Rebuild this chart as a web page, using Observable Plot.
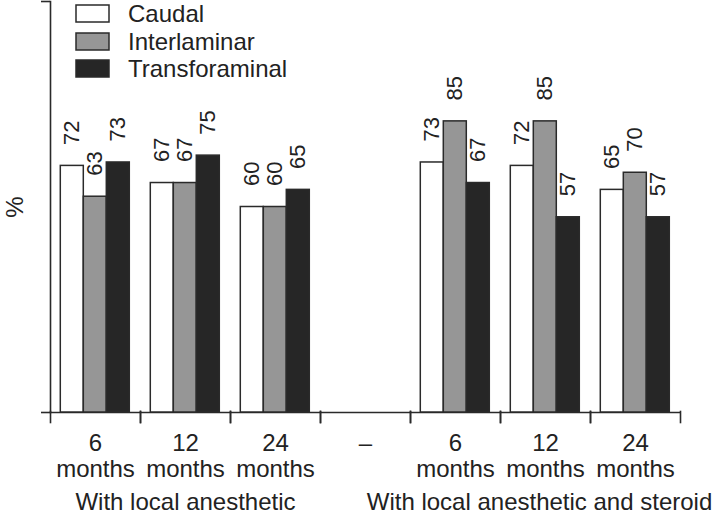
<!DOCTYPE html>
<html><head><meta charset="utf-8">
<script src="https://cdn.jsdelivr.net/npm/d3@7"></script>
<script src="https://cdn.jsdelivr.net/npm/@observablehq/plot@0.6"></script>
<style>
html,body{margin:0;padding:0;background:#fff;overflow:hidden;}
#chart{position:relative;width:714px;height:515px;font-family:"Liberation Sans",Arial,sans-serif;}
#legend{position:absolute;left:76px;top:0px;}
.lg-swatches{font-family:"Liberation Sans",Arial,sans-serif !important;font-size:24px !important;color:#222;margin:0 !important;min-height:0 !important;}
.lg-swatch{height:27.5px;padding-bottom:0 !important;margin:0 !important;display:flex !important;align-items:center;}
.lg-swatch svg{margin-right:19px !important;overflow:visible;flex-shrink:0;}
.lg-swatch svg rect{stroke:#2a2a2a;stroke-width:1.5px;}
.lg-swatch-label{line-height:27.5px;overflow:visible !important;text-overflow:clip !important;}
</style></head>
<body><div id="chart"><div id="legend"></div></div>
<script>
// ---- data ----
const series = ["Caudal", "Interlaminar", "Transforaminal"];
const fills = ["#ffffff", "#969696", "#262626"];
const groups = ["With local anesthetic", "With local anesthetic and steroid"];
const periods = ["6", "12", "24"];
const periodUnit = "months";
const anestheticCaudal = [72, 67, 60];
const anestheticInterlaminar = [63, 67, 60];
const anestheticTransforaminal = [73, 75, 65];
const steroidCaudal = [73, 72, 65];
const steroidInterlaminar = [85, 85, 70];
const steroidTransforaminal = [67, 57, 57];
const separatorLabel = "–";
const yTicks = [0, 120];
const yDomain = [0, 120];
const unitLabel = "%";

// ---- build tables ----
const groupKeys = ["A", "S"];
const groupValues = [
  [anestheticCaudal, anestheticInterlaminar, anestheticTransforaminal],
  [steroidCaudal, steroidInterlaminar, steroidTransforaminal]
];
const slots = [...periods.map(p => "A|" + p), "sep", ...periods.map(p => "S|" + p)];
const slotLabel = k => k === "sep" ? separatorLabel : k.split("|")[1] + "\n" + periodUnit;

const rows = [];
groupKeys.forEach((g, gi) => {
  periods.forEach((p, pi) => {
    series.forEach((s, si) => {
      rows.push({slot: g + "|" + p, series: s, value: groupValues[gi][si][pi]});
    });
  });
});
const groupRows = groupKeys.map((g, gi) => ({slot: g + "|" + periods[1], text: groups[gi]}));

const ink = "#2a2a2a";
const plot = Plot.plot({
  width: 714, height: 515,
  marginTop: 1, marginBottom: 103, marginLeft: 48.7, marginRight: 33,
  style: {fontFamily: "'Liberation Sans', Arial, sans-serif", fontSize: "24px", color: "#222", background: "white"},
  fx: {domain: slots, padding: 0, label: null, axis: null},
  x: {domain: series, paddingInner: 0, paddingOuter: 0.4, axis: null},
  y: {domain: yDomain, axis: null},
  color: {domain: series, range: fills},
  marks: [
    Plot.ruleY(slots, {fx: d => d, y: () => 0, stroke: ink, strokeWidth: 1.6}),
    Plot.axisY({ticks: yTicks, tickSize: 9, tickFormat: () => "", label: unitLabel, labelAnchor: "center", labelArrow: "none", labelOffset: 45, fontSize: 24, stroke: ink, strokeWidth: 1.6}),
    Plot.frame({anchor: "left", facetAnchor: "left", stroke: ink, strokeWidth: 1.6}),
    Plot.frame({anchor: "left", insetTop: 400, dy: 10, stroke: ink, strokeWidth: 1.6}),
    Plot.frame({anchor: "right", insetTop: 400, dy: 10, stroke: ink, strokeWidth: 1.6}),
    Plot.axisFx({anchor: "bottom", tickSize: 0, tickPadding: 20, tickFormat: slotLabel, lineAnchor: "top", lineHeight: 1.08, fontSize: 24, label: null, fill: "#222"}),
    Plot.barY(rows, {fx: "slot", x: "series", y: "value", fill: "series", stroke: ink, strokeWidth: 1.5}),
    Plot.text(rows, {fx: "slot", x: "series", y: "value", text: d => String(d.value), rotate: -90, textAnchor: "start", dy: -21, fontSize: 22, fill: "#222"}),
    Plot.text(groupRows.slice(0, 1), {fx: "slot", text: "text", frameAnchor: "bottom", lineAnchor: "top", dy: 80, fontSize: 24, fill: "#222"}),
    Plot.text(groupRows.slice(1), {fx: "slot", text: "text", frameAnchor: "bottom", lineAnchor: "top", dy: 80, dx: -6, fontSize: 24, fill: "#222"})
  ]
});
document.getElementById("chart").prepend(plot);

const legend = Plot.legend({color: {domain: series, range: fills}, legend: "swatches", columns: 1, swatchWidth: 33, swatchHeight: 17, className: "lg"});
document.getElementById("legend").append(legend);
</script>
</body></html>
